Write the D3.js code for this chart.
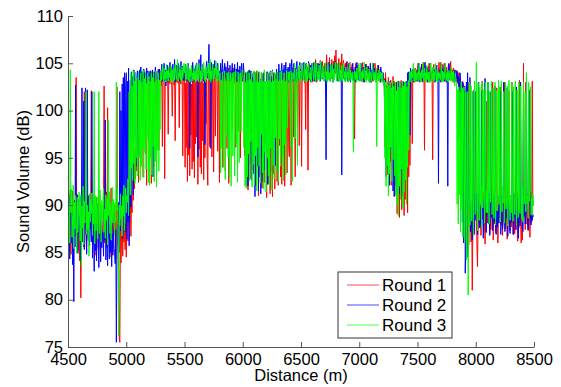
<!DOCTYPE html>
<html>
<head>
<meta charset="utf-8">
<script src="https://cdn.jsdelivr.net/npm/d3@7"></script>
<style>
  body { margin: 0; background: #fff; }
  text { font-family: "Liberation Sans", Arial, sans-serif; fill: #000; }
</style>
</head>
<body>
<div id="chart"></div>
<script>
// Chart data: one reading every 5 m
var distance = d3.range(4500, 8500, 5);

var round1 = [
  102.5, 88.5, 91.2, 86.4, 90.1, 84.8, 89.6, 87.2, 91.5, 85.9, 90.3, 88.1, 86.7, 92.0, 103.5, 87.4, 89.8, 85.2, 90.6, 88.3,
  84.1, 87.9, 80.2, 86.5, 89.7, 91.3, 88.0, 85.6, 102.0, 86.9, 90.4, 87.3, 85.1, 89.2, 91.0, 86.2, 88.8, 90.7, 87.5, 89.9,
  102.1, 87.6, 90.2, 85.8, 88.4, 91.1, 86.3, 89.5, 84.7, 90.8, 87.1, 88.9, 85.4, 91.6, 86.8, 89.3, 84.2, 90.0, 87.7, 86.1,
  88.6, 90.5, 102.6, 86.0, 89.1, 87.8, 91.4, 85.5, 100.3, 88.2, 86.6, 90.9, 84.5, 88.7, 91.8, 86.4, 89.4, 85.0, 87.9, 90.1,
  86.9, 89.2, 84.3, 88.1, 102.5, 85.7, 87.3, 84.0, 76.0, 75.5, 88.4, 83.9, 87.0, 90.2, 84.6, 88.8, 86.1, 89.7, 85.3, 88.0,
  84.5, 88.9, 91.3, 86.2, 89.8, 102.0, 88.1, 92.4, 86.7, 91.0, 89.2, 103.0, 90.5, 93.1, 91.7, 96.0, 92.8, 103.4, 93.6, 97.5,
  103.2, 92.4, 104.1, 96.3, 103.0, 94.2, 102.7, 98.1, 103.8, 93.0, 104.3, 97.2, 103.1, 95.4, 102.9, 92.1, 104.0, 99.0, 103.5, 96.6,
  103.3, 95.1, 104.2, 92.3, 103.6, 98.4, 104.0, 94.1, 102.8, 103.9, 97.0, 104.1, 93.2, 103.4, 99.2, 104.4, 95.8, 103.1, 104.0, 102.9,
  102.6, 104.1, 96.2, 103.3, 104.4, 103.0, 92.8, 103.9, 102.9, 104.5, 103.2, 104.0, 97.5, 103.6, 104.2, 102.8, 103.7, 104.6, 103.1, 99.4,
  103.0, 104.2, 102.7, 103.8, 96.8, 103.4, 104.1, 103.0, 104.3, 102.9, 103.9, 98.2, 104.0, 103.2, 102.8, 104.4, 103.3, 95.2, 103.9, 104.1,
  103.6, 94.0, 102.9, 96.1, 104.0, 92.5, 103.2, 95.3, 104.2, 93.1, 103.0, 97.4, 102.8, 93.8, 104.1, 94.6, 103.3, 92.9, 103.7, 96.5,
  103.1, 97.2, 104.0, 92.2, 103.4, 95.9, 104.5, 94.0, 103.0, 93.3, 104.1, 96.8, 102.9, 92.7, 103.8, 95.0, 104.2, 98.6, 103.3, 94.4,
  92.1, 104.0, 103.2, 96.2, 104.9, 103.0, 104.4, 95.1, 103.6, 104.0, 93.5, 103.1, 104.6, 97.3, 103.4, 104.1, 102.9, 95.7, 104.3, 103.5,
  92.4, 104.1, 103.0, 97.1, 104.3, 102.7, 94.0, 103.9, 103.2, 104.8, 93.6, 103.5, 104.2, 96.0, 103.0, 104.5, 92.3, 103.7, 104.0, 102.9,
  103.2, 104.2, 98.0, 103.1, 104.5, 102.9, 103.9, 103.3, 96.1, 104.1, 103.0, 104.4, 97.8, 103.5, 104.0, 102.8, 95.0, 103.6, 104.2, 103.1,
  103.2, 104.1, 102.9, 95.2, 104.0, 103.3, 92.1, 103.8, 102.8, 91.6, 103.5, 104.2, 94.3, 103.0, 92.8, 104.1, 103.4, 93.7, 102.9, 104.0,
  104.1, 96.2, 103.0, 92.0, 104.2, 94.1, 103.1, 91.0, 103.9, 93.2, 102.8, 95.5, 104.0, 91.8, 103.2, 94.8, 103.7, 92.4, 102.9, 96.9,
  103.0, 90.8, 104.1, 92.2, 103.2, 94.0, 103.9, 91.2, 102.9, 95.0, 103.6, 90.9, 104.0, 93.3, 102.8, 91.7, 103.8, 96.2, 103.1, 92.5,
  104.0, 92.1, 103.1, 96.3, 103.9, 93.0, 102.9, 92.2, 104.2, 103.0, 94.5, 103.7, 92.0, 104.1, 97.0, 103.2, 93.4, 103.8, 102.9, 95.8,
  95.1, 104.0, 103.2, 92.1, 104.2, 103.0, 104.5, 97.2, 103.3, 104.0, 93.0, 103.6, 104.3, 102.9, 98.0, 103.8, 104.1, 96.3, 103.2, 104.4,
  103.1, 94.1, 104.0, 103.2, 104.8, 103.9, 102.9, 104.2, 98.0, 104.9, 103.4, 104.5, 93.7, 103.8, 105.0, 103.2, 104.3, 103.6, 104.7, 103.0,
  104.2, 103.1, 105.1, 104.0, 103.3, 105.4, 104.1, 103.0, 104.4, 105.0, 103.6, 104.8, 103.2, 105.3, 104.0, 103.5, 104.7, 105.2, 103.9, 104.5,
  104.1, 105.0, 103.2, 104.6, 105.9, 104.0, 103.3, 105.1, 104.2, 105.6, 103.8, 104.9, 103.4, 105.4, 104.3, 103.7, 105.2, 104.1, 105.8, 103.9,
  106.4, 104.1, 105.0, 103.2, 104.4, 105.5, 104.0, 103.3, 105.1, 104.2, 106.0, 103.6, 104.8, 105.3, 103.5, 104.6, 105.0, 103.8, 104.3, 105.2,
  105.0, 104.0, 103.2, 104.3, 105.1, 103.1, 104.6, 103.5, 104.9, 103.2, 104.4, 103.8, 97.0, 104.1, 105.0, 103.3, 104.5, 103.7, 104.8, 103.4,
  104.0, 103.1, 105.0, 104.2, 103.3, 104.4, 105.1, 103.2, 104.0, 103.0, 104.6, 103.5, 104.9, 103.3, 104.2, 103.8, 104.7, 103.1, 104.5, 103.6,
  103.0, 104.1, 103.2, 104.5, 103.1, 104.0, 103.3, 105.0, 104.1, 103.0, 104.3, 103.4, 104.8, 103.2, 104.0, 103.6, 104.4, 103.0, 104.2, 103.5,
  104.0, 103.1, 102.6, 103.4, 96.1, 104.0, 103.0, 95.1, 102.6, 93.2, 103.5, 97.4, 102.8, 94.6, 103.2, 92.1, 102.9, 95.8, 103.6, 93.0,
  103.1, 91.0, 102.2, 94.1, 103.0, 89.1, 102.5, 90.2, 103.1, 88.7, 102.4, 91.3, 103.2, 89.5, 102.0, 92.4, 103.0, 88.9, 102.6, 90.6,
  102.1, 91.1, 103.0, 89.2, 102.5, 93.0, 104.0, 94.2, 103.1, 104.2, 103.0, 96.5, 104.1, 103.2, 104.3, 103.0, 104.5, 103.4, 104.0, 103.1,
  104.1, 105.0, 103.1, 104.3, 103.2, 104.0, 104.6, 103.3, 104.8, 103.0, 104.2, 105.1, 95.8, 104.0, 103.2, 104.7, 103.4, 104.1, 103.0, 104.5,
  105.0, 103.1, 104.2, 103.3, 104.0, 103.5, 94.8, 104.1, 104.9, 103.0, 104.4, 103.2, 104.7, 103.6, 104.1, 103.0, 104.3, 105.1, 103.4, 104.0,
  105.1, 104.0, 103.1, 104.4, 103.2, 104.8, 105.0, 103.3, 104.1, 103.0, 104.6, 103.5, 104.2, 103.1, 104.9, 103.4, 104.0, 105.2, 103.2, 104.4,
  104.1, 103.0, 104.5, 103.2, 104.0, 103.4, 104.3, 103.0, 104.1, 103.3, 102.8, 104.0, 103.1, 98.0, 103.0, 92.0, 102.6, 103.1, 95.5, 102.8,
  88.0, 102.5, 89.3, 91.0, 84.2, 90.1, 86.5, 103.0, 85.8, 90.2, 88.4, 92.0, 86.1, 89.7, 81.0, 87.4, 90.6, 102.2, 86.9, 91.2,
  89.2, 90.4, 86.0, 83.5, 88.1, 102.0, 87.6, 91.1, 89.0, 86.8, 90.7, 103.1, 88.5, 91.4, 87.2, 89.8, 85.9, 90.3, 88.8, 101.0,
  88.1, 91.2, 102.0, 89.5, 86.9, 90.8, 87.4, 91.5, 88.9, 103.0, 86.3, 90.1, 88.0, 91.7, 87.1, 89.6, 102.4, 90.2, 86.0, 89.3,
  91.0, 88.6, 89.7, 102.5, 87.9, 90.5, 86.8, 91.3, 88.2, 89.9, 103.0, 87.5, 90.1, 88.7, 86.4, 91.8, 89.1, 102.1, 87.3, 90.0,
  90.2, 87.7, 103.0, 88.9, 86.9, 91.1, 89.4, 87.0, 90.6, 102.0, 88.3, 91.4, 86.2, 89.8, 87.6, 103.2, 90.0, 88.5, 86.0, 89.2,
  86.3, 90.1, 105.0, 88.7, 91.0, 87.4, 103.0, 89.6, 88.0, 91.2, 87.3, 102.0, 90.3, 86.6, 89.5, 91.4, 88.2, 103.1, 89.9, 90.4
];

var round2 = [
  100.0, 85.1, 90.8, 84.3, 91.6, 88.2, 86.0, 89.4, 83.7, 87.9, 79.8, 90.5, 85.6, 102.7, 88.4, 86.2, 91.1, 84.9, 89.7, 87.0,
  88.3, 90.9, 84.2, 87.6, 102.4, 86.1, 90.3, 101.0, 85.3, 89.1, 102.4, 87.2, 84.8, 102.2, 88.9, 86.4, 91.0, 85.7, 89.6, 87.8,
  86.1, 102.0, 84.4, 88.6, 86.9, 83.0, 89.7, 85.2, 88.0, 84.1, 87.5, 90.2, 85.9, 83.4, 88.8, 86.6, 84.0, 89.3, 85.5, 87.1,
  87.0, 84.6, 89.9, 86.3, 99.0, 84.2, 88.5, 85.8, 83.6, 89.0, 86.7, 84.3, 87.9, 85.0, 88.2, 83.5, 86.9, 84.7, 88.7, 85.4,
  85.1, 83.8, 87.4, 75.5, 84.1, 88.0, 86.2, 90.3, 85.0, 102.0, 87.3, 100.0, 89.6, 102.8, 86.5, 103.5, 88.9, 104.0, 87.2, 102.6,
  104.0, 86.4, 103.1, 88.2, 104.5, 85.7, 92.0, 103.2, 89.8, 104.1, 95.0, 103.6, 91.1, 104.3, 103.0, 97.2, 104.0, 103.4, 94.1, 104.2,
  104.0, 103.1, 95.2, 104.3, 103.0, 104.6, 102.6, 104.1, 103.2, 97.0, 104.4, 103.3, 104.0, 98.7, 103.1, 104.5, 102.8, 104.2, 103.6, 104.0,
  103.1, 104.2, 102.6, 104.0, 103.2, 104.3, 93.0, 103.0, 104.1, 103.4, 104.6, 102.9, 104.0, 103.3, 96.2, 104.2, 103.1, 104.4, 103.0, 104.1,
  104.2, 104.9, 103.1, 104.0, 103.5, 105.0, 103.2, 104.3, 102.6, 104.1, 103.4, 104.8, 103.0, 104.5, 103.3, 105.1, 103.7, 104.0, 103.2, 104.6,
  104.9, 103.2, 104.1, 105.4, 103.0, 104.2, 104.8, 103.5, 104.0, 105.0, 103.3, 104.6, 103.1, 104.3, 105.2, 103.4, 104.0, 104.7, 103.2, 104.4,
  104.1, 103.2, 104.9, 104.0, 103.1, 104.5, 105.0, 103.3, 104.2, 96.0, 104.0, 103.4, 104.7, 103.0, 105.1, 104.2, 103.5, 104.4, 103.1, 104.8,
  104.0, 105.0, 103.2, 95.1, 104.1, 105.4, 103.3, 104.2, 105.9, 103.0, 104.4, 103.5, 104.9, 103.1, 104.0, 96.4, 103.6, 104.3, 105.2, 103.4,
  104.1, 105.0, 107.0, 103.2, 104.3, 96.0, 105.1, 104.0, 103.3, 104.9, 103.1, 104.4, 105.3, 103.5, 104.0, 103.2, 104.7, 105.0, 103.4, 104.2,
  104.0, 103.2, 105.0, 104.1, 103.3, 105.4, 104.0, 103.1, 104.3, 105.0, 103.5, 104.6, 103.2, 104.1, 105.2, 103.4, 104.0, 103.1, 104.8, 103.6,
  103.2, 104.1, 105.0, 103.4, 104.2, 103.0, 104.9, 104.0, 103.2, 104.4, 103.1, 105.1, 103.6, 104.3, 103.0, 104.7, 103.3, 104.0, 105.0, 103.5,
  103.1, 105.0, 104.2, 103.3, 104.0, 96.2, 103.2, 93.1, 104.1, 92.0, 103.4, 104.3, 94.6, 103.0, 104.2, 92.7, 103.5, 95.4, 104.0, 93.3,
  103.2, 90.9, 104.0, 92.1, 103.0, 94.2, 102.6, 91.5, 104.1, 93.0, 103.3, 91.2, 102.9, 95.1, 103.8, 92.5, 104.0, 93.8, 103.1, 96.6,
  103.0, 96.1, 104.1, 92.2, 103.2, 104.0, 95.1, 103.0, 104.2, 103.1, 93.5, 104.3, 103.2, 97.4, 104.0, 103.4, 94.2, 103.1, 104.4, 103.0,
  104.0, 103.1, 104.9, 103.3, 104.2, 103.0, 104.1, 105.0, 103.2, 104.3, 103.5, 104.8, 103.1, 104.0, 105.1, 103.4, 104.4, 103.2, 104.6, 103.0,
  104.1, 105.0, 103.2, 104.0, 105.4, 104.2, 103.1, 104.3, 105.0, 103.3, 104.5, 103.0, 104.8, 105.2, 103.4, 104.0, 103.2, 104.7, 105.1, 103.5,
  104.0, 103.1, 105.0, 104.2, 103.3, 105.1, 104.0, 103.2, 104.4, 105.0, 103.4, 104.6, 103.1, 105.2, 104.1, 103.5, 104.8, 103.0, 104.3, 105.0,
  103.2, 104.1, 105.0, 103.1, 104.3, 105.2, 103.4, 104.0, 103.2, 105.0, 104.5, 103.3, 104.9, 103.1, 104.2, 105.1, 103.6, 104.0, 103.3, 104.7,
  104.0, 103.2, 103.8, 94.8, 104.1, 105.0, 103.3, 104.2, 105.1, 104.0, 103.1, 104.6, 103.4, 105.0, 104.2, 103.0, 104.8, 103.5, 104.1, 105.2,
  104.1, 105.0, 103.2, 104.3, 103.1, 104.6, 103.4, 104.0, 103.2, 104.1, 93.2, 103.0, 104.2, 105.0, 103.3, 104.5, 103.1, 104.0, 105.1, 103.6,
  103.1, 104.0, 105.0, 103.2, 104.4, 103.0, 104.1, 103.5, 104.8, 105.0, 103.3, 104.2, 103.1, 104.6, 103.0, 104.3, 105.1, 103.4, 104.0, 103.2,
  104.0, 103.2, 104.4, 105.0, 103.1, 104.2, 103.3, 104.6, 103.0, 104.1, 103.5, 104.9, 103.2, 104.0, 103.4, 104.7, 103.1, 104.3, 103.0, 105.0,
  104.1, 103.0, 104.3, 103.2, 105.0, 104.0, 103.4, 104.5, 103.1, 104.2, 103.3, 104.0, 103.5, 104.8, 103.2, 104.1, 103.0, 104.6, 103.3, 104.0,
  103.1, 104.0, 103.2, 102.6, 97.1, 103.3, 93.0, 102.5, 94.0, 103.0, 95.2, 102.7, 92.1, 103.1, 96.0, 102.4, 93.8, 103.2, 91.5, 102.8,
  90.9, 102.5, 92.1, 103.0, 91.4, 102.0, 94.1, 103.1, 95.0, 102.6, 91.2, 103.0, 93.5, 102.2, 90.9, 103.1, 92.6, 102.5, 96.2, 103.0,
  93.0, 103.1, 96.1, 104.0, 103.2, 104.1, 103.0, 97.4, 104.5, 103.1, 104.0, 103.3, 104.4, 103.0, 104.2, 103.5, 104.0, 103.1, 104.3, 103.2,
  103.1, 104.0, 105.0, 104.2, 103.0, 104.3, 103.2, 104.9, 104.0, 103.1, 104.5, 103.3, 104.1, 105.1, 103.2, 104.0, 103.4, 104.6, 103.0, 104.2,
  104.1, 103.0, 105.0, 104.2, 103.2, 104.0, 103.5, 104.6, 103.1, 104.3, 103.0, 104.1, 103.3, 104.8, 103.2, 104.0, 92.3, 104.1, 103.2, 104.4,
  103.0, 104.1, 104.9, 104.0, 103.2, 104.3, 103.1, 104.5, 103.3, 104.0, 103.0, 104.2, 92.0, 104.8, 105.0, 104.1, 103.2, 104.0, 103.4, 104.2,
  104.0, 103.2, 104.1, 103.0, 104.3, 103.1, 104.0, 103.4, 104.2, 103.0, 103.6, 97.0, 102.5, 104.0, 103.1, 91.0, 102.4, 88.2, 103.0, 86.0,
  90.1, 102.6, 82.8, 86.2, 103.0, 84.5, 104.0, 85.3, 89.6, 91.0, 103.5, 87.2, 88.1, 90.4, 86.3, 102.0, 89.5, 87.0, 91.2, 88.4,
  102.0, 89.1, 91.2, 86.9, 88.4, 103.0, 90.2, 87.6, 89.8, 88.0, 102.1, 91.0, 89.2, 86.5, 90.6, 88.3, 103.4, 89.7, 87.1, 90.0,
  90.1, 103.0, 88.0, 91.3, 86.8, 89.5, 102.0, 88.7, 90.4, 87.3, 89.0, 91.1, 88.2, 102.6, 90.0, 86.9, 89.4, 87.7, 91.0, 88.5,
  88.1, 90.3, 102.0, 86.9, 91.0, 89.2, 87.5, 88.3, 103.0, 90.0, 87.2, 89.8, 88.6, 91.2, 102.4, 86.7, 90.5, 88.0, 89.3, 87.0,
  91.0, 88.2, 89.4, 102.0, 90.1, 86.9, 91.3, 88.8, 89.6, 87.4, 102.5, 88.1, 90.7, 86.5, 89.2, 91.0, 87.8, 103.0, 88.9, 90.2,
  90.0, 87.2, 102.0, 88.9, 91.2, 88.0, 89.5, 103.0, 90.3, 88.1, 87.4, 89.7, 91.0, 102.2, 88.6, 87.9, 90.1, 88.4, 89.0, 88.8
];

var round3 = [
  91.2, 87.8, 90.1, 86.0, 104.3, 89.2, 91.7, 86.6, 88.9, 92.1, 85.4, 90.3, 87.5, 91.0, 88.6, 84.9, 90.8, 87.1, 89.5, 91.4,
  88.7, 86.2, 91.1, 83.5, 89.9, 87.6, 92.0, 85.8, 90.4, 88.1, 91.5, 102.0, 86.9, 90.0, 87.4, 89.3, 84.6, 91.2, 88.2, 90.6,
  89.1, 91.3, 86.8, 90.2, 88.0, 102.0, 85.9, 91.0, 87.3, 89.8, 90.9, 86.4, 88.7, 102.0, 87.0, 91.6, 89.4, 86.1, 90.5, 88.3,
  90.0, 91.8, 87.2, 89.6, 86.5, 91.1, 88.4, 90.7, 85.8, 99.0, 88.9, 91.4, 87.0, 90.2, 86.3, 89.5, 91.9, 88.1, 90.6, 87.7,
  86.9, 90.3, 88.2, 103.0, 89.4, 91.7, 85.5, 76.2, 90.0, 87.8, 91.2, 88.5, 89.9, 86.7, 91.0, 88.9, 92.1, 87.3, 90.4, 91.8,
  89.2, 91.0, 90.3, 92.8, 88.9, 102.0, 93.3, 91.1, 104.0, 93.9, 102.6, 92.6, 104.2, 94.4, 103.1, 92.3, 104.0, 95.0, 103.5, 93.1,
  93.2, 104.1, 95.0, 103.2, 92.6, 104.0, 94.1, 103.0, 96.0, 104.3, 92.9, 103.4, 95.6, 104.1, 93.8, 102.9, 97.1, 104.0, 92.4, 103.6,
  92.1, 103.1, 95.0, 104.0, 93.2, 103.5, 96.2, 104.1, 92.5, 103.0, 94.6, 104.2, 91.9, 103.3, 95.8, 104.0, 93.6, 103.2, 98.0, 104.1,
  104.0, 103.2, 104.8, 104.0, 103.1, 104.5, 103.3, 104.1, 103.0, 104.9, 103.4, 104.2, 103.1, 104.6, 103.5, 104.0, 103.2, 104.7, 103.0, 104.3,
  104.1, 103.0, 104.5, 103.2, 104.9, 104.0, 103.3, 104.2, 105.4, 103.1, 104.0, 103.5, 104.8, 103.2, 104.3, 103.0, 104.6, 103.4, 104.1, 105.0,
  104.0, 104.9, 103.1, 104.2, 103.3, 105.0, 104.1, 103.2, 104.5, 103.0, 104.3, 103.6, 104.8, 103.1, 104.0, 103.4, 104.7, 103.2, 104.2, 103.0,
  104.9, 104.0, 103.2, 104.3, 103.0, 105.0, 104.1, 103.3, 104.2, 103.1, 104.6, 103.4, 104.0, 105.1, 103.2, 104.4, 103.0, 104.7, 103.5, 104.1,
  104.0, 105.0, 103.2, 104.1, 105.4, 103.0, 104.2, 103.3, 104.9, 104.0, 103.1, 104.5, 103.4, 104.1, 105.2, 103.0, 104.3, 103.6, 104.8, 103.2,
  103.1, 104.0, 93.4, 103.2, 96.0, 104.1, 103.0, 94.0, 103.5, 104.2, 92.7, 103.1, 97.2, 104.0, 103.3, 95.1, 104.1, 93.0, 103.2, 104.0,
  92.0, 103.1, 104.0, 95.2, 103.0, 104.1, 93.1, 103.3, 104.2, 96.6, 103.0, 92.4, 104.1, 103.2, 94.5, 103.8, 104.0, 97.8, 103.1, 104.3,
  104.0, 103.1, 96.1, 104.2, 92.0, 103.0, 91.8, 104.1, 93.0, 103.2, 95.4, 104.0, 92.6, 103.3, 96.7, 104.1, 91.9, 103.0, 94.3, 104.2,
  92.1, 104.0, 95.2, 103.1, 91.5, 104.2, 96.1, 103.0, 94.1, 104.1, 92.3, 103.2, 97.5, 104.0, 93.4, 103.1, 91.7, 104.3, 95.6, 103.0,
  91.4, 103.1, 95.0, 104.0, 93.1, 103.2, 92.0, 104.1, 96.0, 103.0, 91.6, 104.2, 94.2, 103.1, 92.8, 104.0, 97.1, 103.3, 93.6, 104.1,
  104.0, 92.5, 103.1, 97.0, 104.1, 94.1, 103.0, 104.2, 95.1, 103.2, 92.6, 104.0, 96.4, 103.1, 93.2, 104.3, 103.0, 98.2, 104.1, 103.2,
  104.1, 103.0, 96.1, 104.2, 103.1, 92.5, 104.0, 103.3, 104.1, 105.0, 97.0, 103.2, 104.4, 103.0, 94.2, 104.1, 103.4, 104.8, 103.1, 104.2,
  104.0, 103.1, 105.0, 104.2, 103.2, 104.1, 105.1, 103.0, 104.4, 103.3, 104.9, 103.1, 104.2, 105.0, 103.4, 104.0, 103.2, 104.6, 103.0, 104.3,
  105.0, 104.1, 103.2, 104.0, 105.1, 103.0, 104.3, 105.0, 103.2, 104.1, 103.4, 104.8, 103.1, 104.2, 105.2, 103.3, 104.0, 103.5, 104.7, 103.1,
  103.1, 104.0, 105.0, 103.2, 104.1, 103.0, 105.1, 104.2, 103.3, 104.0, 103.1, 104.9, 103.4, 104.2, 105.0, 103.0, 104.4, 103.2, 104.1, 105.1,
  104.0, 103.1, 105.0, 104.2, 103.2, 104.0, 105.1, 103.0, 104.3, 103.3, 104.8, 103.1, 104.2, 105.0, 103.4, 104.1, 103.0, 104.6, 103.2, 104.0,
  104.1, 103.0, 104.2, 105.0, 103.1, 104.3, 103.4, 104.0, 103.2, 104.1, 95.6, 103.0, 104.2, 103.3, 104.1, 103.0, 104.5, 103.2, 104.0, 105.0,
  103.1, 104.0, 105.0, 103.2, 104.1, 103.0, 104.3, 103.4, 104.0, 105.1, 103.2, 104.2, 103.0, 104.6, 103.3, 104.0, 103.1, 104.4, 103.0, 104.1,
  104.0, 103.1, 104.2, 105.0, 103.2, 104.0, 103.3, 104.1, 103.0, 104.5, 96.2, 103.1, 104.0, 103.2, 104.3, 103.0, 104.1, 103.4, 104.0, 103.1,
  104.0, 103.1, 102.6, 103.2, 95.0, 103.0, 92.0, 102.5, 94.1, 103.1, 91.0, 102.7, 93.3, 103.0, 96.1, 102.4, 92.5, 103.2, 94.8, 102.6,
  102.5, 93.1, 103.0, 91.0, 102.1, 90.0, 103.1, 88.9, 102.5, 92.0, 103.0, 90.6, 102.4, 93.8, 103.1, 89.7, 102.6, 91.4, 103.0, 92.7,
  103.0, 90.1, 102.5, 94.0, 103.1, 95.8, 104.0, 103.2, 104.1, 103.0, 104.3, 103.4, 104.0, 105.0, 103.1, 104.2, 103.0, 104.4, 103.2, 104.0,
  104.0, 103.1, 104.2, 105.0, 103.2, 104.0, 103.0, 104.3, 103.4, 105.1, 104.0, 103.1, 104.5, 103.2, 104.0, 103.0, 104.8, 103.3, 104.1, 103.0,
  104.1, 103.0, 104.2, 105.0, 103.1, 104.0, 103.3, 104.6, 103.0, 104.1, 103.2, 105.0, 104.0, 103.1, 104.3, 103.0, 104.1, 103.4, 104.0, 103.2,
  104.0, 105.0, 103.1, 104.2, 103.0, 104.1, 103.3, 104.5, 105.0, 103.2, 104.0, 103.1, 104.3, 103.0, 104.2, 103.4, 104.0, 103.1, 104.6, 103.2,
  104.1, 103.0, 104.2, 103.1, 102.6, 104.0, 103.2, 102.8, 90.1, 102.2, 88.0, 102.5, 91.1, 102.0, 87.2, 103.0, 89.5, 102.4, 86.6, 102.0,
  102.5, 86.1, 91.0, 102.0, 84.2, 90.3, 102.0, 80.5, 89.8, 103.0, 87.9, 91.1, 102.6, 88.3, 90.5, 102.0, 86.8, 91.3, 103.1, 89.0,
  89.1, 105.1, 90.2, 87.3, 102.9, 91.0, 88.4, 102.5, 90.1, 92.0, 87.6, 103.0, 89.7, 91.3, 102.2, 88.1, 90.6, 103.0, 89.2, 91.5,
  89.2, 103.0, 91.1, 88.0, 102.0, 90.3, 92.0, 103.1, 89.0, 91.2, 102.4, 88.6, 90.7, 103.0, 87.9, 91.5, 102.1, 89.4, 90.2, 103.2,
  90.1, 102.5, 88.2, 91.0, 103.1, 89.3, 92.0, 90.2, 102.0, 88.1, 91.4, 103.0, 89.6, 90.8, 102.6, 87.8, 91.1, 103.2, 89.9, 88.4,
  91.0, 89.2, 103.0, 90.1, 88.3, 102.5, 91.2, 89.0, 103.1, 90.4, 87.9, 102.2, 91.6, 88.7, 103.0, 90.0, 89.1, 102.6, 91.3, 88.5,
  92.0, 88.2, 103.0, 90.1, 91.2, 102.0, 89.3, 104.0, 90.2, 91.1, 88.6, 103.0, 90.4, 91.8, 102.5, 89.0, 90.7, 88.9, 91.2, 90.0
];

var seriesNames = ["Round 1", "Round 2", "Round 3"];
var seriesColors = ["#ff0000", "#0000ff", "#00ff00"];
var xTicks = [4500, 5000, 5500, 6000, 6500, 7000, 7500, 8000, 8500];
var yTicks = [75, 80, 85, 90, 95, 100, 105, 110];

// Chart parameters
var svgWidth = 561;
var svgHeight = 387;
var margin = { top: 16, right: 27, bottom: 40, left: 68 };
var width = svgWidth - margin.left - margin.right;
var height = svgHeight - margin.top - margin.bottom;
var fontSize = "16.5px";

var svg = d3.select("#chart").append("svg")
  .attr("width", svgWidth)
  .attr("height", svgHeight);

var chartGroup = svg.append("g")
  .attr("transform", `translate(${margin.left}, ${margin.top})`);

var xScale = d3.scaleLinear().domain([4500, 8500]).range([0, width]);
var yScale = d3.scaleLinear().domain([75, 110]).range([height, 0]);

chartGroup.append("clipPath").attr("id", "plot-clip")
  .append("rect").attr("width", width).attr("height", height);

var line = d3.line()
  .x((d, i) => xScale(distance[i]))
  .y(d => yScale(d));

// red first, then blue, green drawn on top
[round1, round2, round3].forEach(function(values, k) {
  chartGroup.append("path")
    .datum(values.slice(0, distance.length))
    .attr("clip-path", "url(#plot-clip)")
    .attr("fill", "none")
    .attr("stroke", seriesColors[k])
    .attr("stroke-width", 1)
    .attr("d", line);
});

// axes, ticks pointing inward
var bottomAxis = d3.axisBottom(xScale).tickValues(xTicks).tickFormat(d3.format("d"))
  .tickSizeInner(-5).tickSizeOuter(0).tickPadding(6);
var leftAxis = d3.axisLeft(yScale).tickValues(yTicks).tickFormat(d3.format("d"))
  .tickSizeInner(-5).tickSizeOuter(0).tickPadding(5);

var xAxis = chartGroup.append("g")
  .attr("transform", `translate(0, ${height})`)
  .call(bottomAxis);

var yAxis = chartGroup.append("g").call(leftAxis);

[xAxis, yAxis].forEach(function(ax) {
  ax.selectAll("path, line").attr("stroke", "#555");
  ax.selectAll("text")
    .attr("fill", "#000")
    .style("font-size", fontSize)
    .style("font-family", "'Liberation Sans', Arial, sans-serif");
});

// axis titles
chartGroup.append("text")
  .attr("x", width / 2)
  .attr("y", height + 34)
  .attr("text-anchor", "middle")
  .style("font-size", fontSize)
  .text("Distance (m)");

chartGroup.append("text")
  .attr("transform", "rotate(-90)")
  .attr("x", -height / 2)
  .attr("y", -39)
  .attr("text-anchor", "middle")
  .style("font-size", fontSize)
  .text("Sound Volume (dB)");

// legend
var legend = svg.append("g").attr("transform", "translate(338, 272)");
legend.append("rect")
  .attr("width", 114)
  .attr("height", 66)
  .attr("fill", "#fff")
  .attr("stroke", "#333")
  .attr("stroke-width", 1);

seriesNames.forEach(function(name, k) {
  var yRow = 13 + k * 20;
  legend.append("line")
    .attr("x1", 9).attr("x2", 41)
    .attr("y1", yRow).attr("y2", yRow)
    .attr("stroke", seriesColors[k])
    .attr("stroke-width", 1)
    .attr("opacity", 0.7);
  legend.append("text")
    .attr("x", 44)
    .attr("y", yRow + 6)
    .style("font-size", "17px")
    .text(name);
});
</script>
</body>
</html>
